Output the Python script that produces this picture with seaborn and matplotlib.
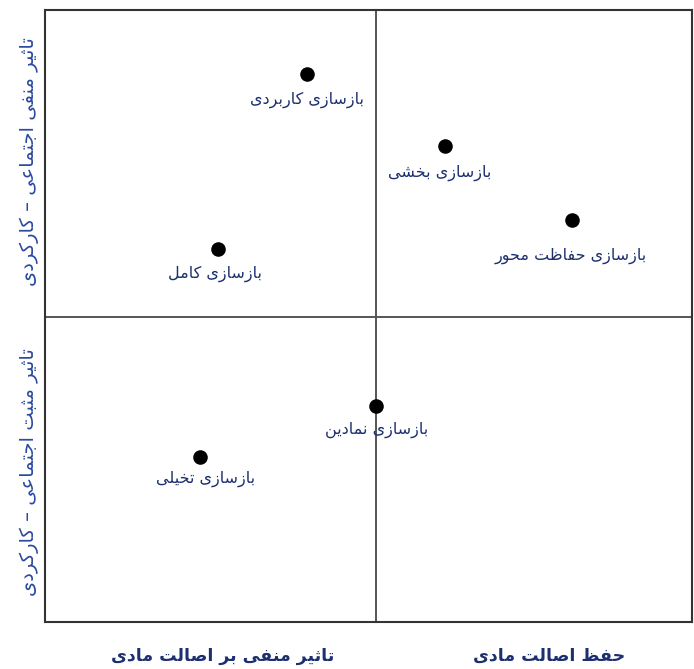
import matplotlib
matplotlib.use("Agg")
import matplotlib.pyplot as plt
import seaborn as sns
import pandas as pd

# ---------------- data ----------------
labels = ["بازسازی کاربردی", "بازسازی بخشی", "بازسازی حفاظت محور",
          "بازسازی کامل", "بازسازی نمادین", "بازسازی تخیلی"]
x_vals = [4.05, 6.18, 8.15, 2.67, 5.12, 2.40]
y_vals = [8.95, 7.78, 6.57, 6.09, 3.53, 2.70]
x_center = 5.12
y_center = 4.98
y_label_top = "تاثیر منفی اجتماعی – کارکردی"
y_label_bottom = "تاثیر مثبت اجتماعی – کارکردی"
x_label_left = "تاثیر منفی بر اصالت مادی"
x_label_right = "حفظ اصالت مادی"

# ---------------- Persian shaping (no external libs) ----------------
FORMS = {  # isolated, final, initial, medial
    'ا': ('\uFE8D', '\uFE8E', None, None),
    'ب': ('\uFE8F', '\uFE90', '\uFE91', '\uFE92'),
    'ت': ('\uFE95', '\uFE96', '\uFE97', '\uFE98'),
    'ث': ('\uFE99', '\uFE9A', '\uFE9B', '\uFE9C'),
    'ج': ('\uFE9D', '\uFE9E', '\uFE9F', '\uFEA0'),
    'ح': ('\uFEA1', '\uFEA2', '\uFEA3', '\uFEA4'),
    'خ': ('\uFEA5', '\uFEA6', '\uFEA7', '\uFEA8'),
    'د': ('\uFEA9', '\uFEAA', None, None),
    'ر': ('\uFEAD', '\uFEAE', None, None),
    'ز': ('\uFEAF', '\uFEB0', None, None),
    'س': ('\uFEB1', '\uFEB2', '\uFEB3', '\uFEB4'),
    'ش': ('\uFEB5', '\uFEB6', '\uFEB7', '\uFEB8'),
    'ص': ('\uFEB9', '\uFEBA', '\uFEBB', '\uFEBC'),
    'ظ': ('\uFEC5', '\uFEC6', '\uFEC7', '\uFEC8'),
    'ع': ('\uFEC9', '\uFECA', '\uFECB', '\uFECC'),
    'ف': ('\uFED1', '\uFED2', '\uFED3', '\uFED4'),
    'ل': ('\uFEDD', '\uFEDE', '\uFEDF', '\uFEE0'),
    'م': ('\uFEE1', '\uFEE2', '\uFEE3', '\uFEE4'),
    'ن': ('\uFEE5', '\uFEE6', '\uFEE7', '\uFEE8'),
    'و': ('\uFEED', '\uFEEE', None, None),
    'ی': ('\uFBFC', '\uFBFD', '\uFBFE', '\uFBFF'),
    'ک': ('\uFB8E', '\uFB8F', '\uFB90', '\uFB91'),
}


def dual(c):
    return c in FORMS and FORMS[c][2] is not None


def shape(text):
    out = []
    n = len(text)
    for i, c in enumerate(text):
        if c not in FORMS:
            out.append(c)
            continue
        prev = text[i - 1] if i > 0 else ''
        nxt = text[i + 1] if i < n - 1 else ''
        jp = dual(prev)
        jn = dual(c) and nxt in FORMS
        iso, fin, ini, med = FORMS[c]
        if jp and jn:
            out.append(med)
        elif jp:
            out.append(fin)
        elif jn:
            out.append(ini)
        else:
            out.append(iso)
    return ''.join(out)[::-1]


# ---------------- plot ----------------
sns.set_theme(style="white")
plt.rcParams['font.family'] = ['DejaVu Sans']

fig = plt.figure(figsize=(6.94, 6.69), dpi=100)
ax = fig.add_axes([45 / 694, 1 - 622 / 669, 647 / 694, 612 / 669])

df = pd.DataFrame({"x": x_vals, "y": y_vals, "label": labels})

ax.axvline(x_center, color="#555555", lw=1.4, zorder=1)
ax.axhline(y_center, color="#555555", lw=1.4, zorder=1)

sns.scatterplot(data=df, x="x", y="y", ax=ax, color="black", s=110,
                edgecolor="black", linewidth=0, zorder=3, legend=False)

txt_color = "#1c2f6e"
offsets = [(0, -26), (-5, -27), (-2, -36), (-3, -24), (0, -24), (5, -22)]
for (lx, ly, lab), off in zip(zip(x_vals, y_vals, labels), offsets):
    ax.annotate(shape(lab), (lx, ly), xytext=off, textcoords="offset pixels",
                ha="center", va="center", fontsize=11.5, color=txt_color,
                zorder=4)

ax.set_xlim(0, 10)
ax.set_ylim(0, 10)
ax.set_xticks([])
ax.set_yticks([])
ax.set_xlabel("")
ax.set_ylabel("")
for sp in ax.spines.values():
    sp.set_visible(True)
    sp.set_color("#333333")
    sp.set_linewidth(1.5)

ylab_color = "#2b4aa0"
fig.text(29 / 694, 1 - 162 / 669, shape(y_label_top), rotation=90,
         ha="center", va="center", fontsize=14, color=ylab_color)
fig.text(29 / 694, 1 - 472 / 669, shape(y_label_bottom), rotation=90,
         ha="center", va="center", fontsize=14, color=ylab_color)
fig.text(223 / 694, 1 - 656 / 669, shape(x_label_left),
         ha="center", va="center", fontsize=12.5, color=txt_color,
         fontweight="bold")
fig.text(549 / 694, 1 - 656 / 669, shape(x_label_right),
         ha="center", va="center", fontsize=12.5, color=txt_color,
         fontweight="bold")

fig.savefig("out.png", dpi=100, facecolor="white")
